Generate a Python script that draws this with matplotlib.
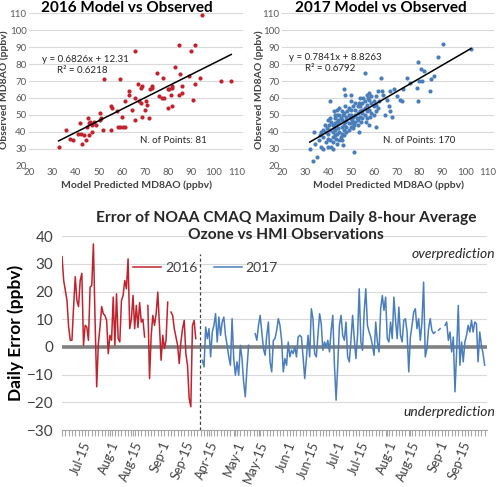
import numpy as np
import matplotlib
matplotlib.use('Agg')
import matplotlib.pyplot as plt
import pandas as pd

plt.rcParams['font.family'] = ['Lato', 'DejaVu Sans']

RED = '#C0232E'
BLUE = '#4A7EBB'
GRID = '#D9D9D9'
TXT = '#404040'

# ---------------- scatter data ----------------
model_2016 = [32.7, 36, 37.5, 39, 41, 42, 42.5, 43, 43.5, 44.5, 45, 45.5, 46, 46, 46.5, 47, 47, 48, 49,
              50.5, 50.5, 51, 52, 52.5, 55.5, 55.5, 56, 58, 58.5, 59.5, 59.5, 60, 60.5, 61.5, 61.5, 63, 63,
              64.5, 66, 66, 66, 67, 67.5, 68.5, 68.5, 69, 69, 70, 70.5, 71, 72, 72.5, 73, 73, 75.5, 76,
              77.5, 78, 80, 80, 80.5, 81.5, 82, 82, 82, 83, 85, 85, 85.5, 86, 86, 89, 90, 91, 92, 92, 94,
              95, 103, 107.5, 78.5]
obs_2016 = [31, 41, 36, 35, 39, 45, 39, 33, 38, 35, 43, 48, 38, 45, 46, 40, 44, 46, 44,
            51, 47, 48, 41, 71, 41, 55, 54, 52, 43, 43, 71, 49, 43, 58, 43, 64, 62,
            53, 60, 47, 88, 68, 58, 57, 66, 67, 49, 53, 58, 56, 48, 65, 67, 66, 75, 61,
            60, 72, 54, 65, 65, 62, 66, 67, 55, 78, 62, 91, 74, 63, 67, 73, 88, 59, 91, 68, 72,
            109, 70, 70, 60]

model_2017 = [32, 33.5, 34, 35, 34.5, 36, 37, 38, 38, 38.5, 39, 40, 40, 40, 41, 41, 41.5, 42, 42, 42,
              42.5, 43, 43, 43.5, 44, 44, 44.5, 45, 45, 46, 46, 46.5, 47, 47, 47.5, 48, 48, 49, 49, 50,
              50, 50.5, 51, 51.5, 52, 52, 53, 53, 54, 54, 55, 55, 56, 56, 56.5, 57, 57, 58, 58, 58.5,
              59, 60, 61, 61, 61, 62, 62.5, 63, 63.5, 64, 65, 66, 66.5, 67, 67, 68, 69, 70, 71.5, 72.5,
              73, 74.5, 76, 79, 79.5, 79.5, 80, 80.5, 81, 82, 84.5, 85, 86.5, 88, 90.5, 102.5,
              36.5, 37, 38, 39, 39.5, 40, 40.5, 41, 41, 41.5, 42, 42, 42.5, 43, 43, 43.5, 44, 44, 44,
              44.5, 45, 45, 45, 45.5, 45.5, 46, 46, 46.5, 47, 47, 47, 47.5, 47.5, 48, 48, 48.5, 49, 49,
              49.5, 50, 50, 50, 50.5, 51, 51, 51.5, 52, 52, 52.5, 53, 53, 53.5, 54, 54, 54.5, 55, 55,
              55.5, 56, 56, 57, 57, 57.5, 58, 58, 59, 59, 60, 60, 61, 62, 43, 46, 53.5]
obs_2017 = [30, 23, 40, 25, 33, 35, 31, 30, 37, 44, 40, 47, 36, 31, 48, 58, 31, 30, 37, 44,
            52, 45, 38, 36, 53, 33, 47, 40, 50, 52, 39, 32, 65, 44, 62, 47, 40, 54, 50, 62,
            58, 45, 42, 28, 57, 50, 47, 55, 60, 52, 53, 48, 75, 58, 46, 62, 52, 63, 44, 49,
            57, 55, 43, 61, 52, 64, 58, 72, 64, 62, 50, 59, 55, 64, 52, 49, 65, 61, 59, 58,
            65, 72, 69, 66, 81, 58, 70, 77, 70, 76, 64, 71, 73, 84, 92, 89,
            38, 40, 41, 34, 42, 39, 44, 35, 41, 46, 40, 34, 42, 41, 48, 44, 39, 46, 50,
            42, 35, 45, 54, 48, 37, 43, 47, 50, 41, 38, 51, 46, 55, 43, 49, 52, 45, 41,
            48, 53, 50, 43, 47, 55, 49, 44, 46, 53, 48, 51, 44, 57, 49, 55, 46, 51, 57,
            60, 50, 54, 48, 56, 60, 53, 59, 51, 61, 50, 58, 56, 54, 50, 35, 40]

fit_2016 = (0.6826, 12.31, 0.6218)
fit_2017 = (0.7841, 8.8263, 0.6792)

# ---------------- time series data ----------------
start_2016 = '2016-07-03'
start_2017 = '2017-04-11'
nan = np.nan
err_2016 = [32.6, 24, 20.4, 16.8, 7.2, 2.4, 2.4, 14.4, 25.4, 16.8, 14.6, 24, 26.6, 0.6, 7.8, 7.2, 2.4,
            21.6, 22.2, 37.2, 10, -14.4, 1.2, 7.2, 14.6, 12, 11.4, 9.6, -2.4, 4.2, 2.4, 18, 0.6, 19.2,
            3, 1.8, 16.8, 18.6, 24, 21, 31.8,
            6.6, 10, 18.6, 6.6, 15, 7, 16, 9, 10, 3.6, nan, 15, -11.4, 4.2, 11.4, 7.8, 12, 19.8, 7.8,
            -4.8, 4.2, -0.6, 2.4, 16.2, nan, 12.6, 11.4, 6.6, 3.6, 0.6, -6, 1.8, 6.6, 9.6, -2.4, -6.6,
            -18.6, -21.6, 7.8, 9.6, 3]
err_2017 = [-4.8, -7.2, 7.2, 3, 6.6, -3.6, 5.4, 7.8, 12, 1.8, 10.8, 4.2, 9, 10.8, 4.2, 0.6, -3.6,
            -6.6, 10.2, -4.2, -10.2, -5.4, -10.2, 0.6, -4.2, -12.6, -18, -7.8, 0.6, nan, nan, nan,
            4.8, 2.4, 7.8, 11.4, 5.4, -0.6, -3, 4.2, 9, -5.4,
            -9, 2.4, 3, 6, 10.2, 7.8, 2.4, -9, -4.2, -6.6, 1.8, -3.6, -1.2, -2.4, 0, -3.6, 3.6, 4.2,
            3.6, -3.6, -11.4, -4.2, 4.2, -3.6, 13.8, 10.2, -2.4, -3.6, 4.2, 12, 8.4, -1.2, 1.8, 0,
            2.4, -1.8, 6, 11.4, -6.6, -19.2, -6.6, 7.8, 11.4,
            4.2, 2.4, 9, -3.6, -5.4, 2.4, 11.4, 3, -4.2, 4.2, 21, 1.8, -1.2, 12.6, 21, 7.8, 5.4, 3.6,
            0.6, -3, 9, 1.8, -1.8, 13.8, 18.6, 13.2, 18, 3, 1.8, 9, 3, 18, 9.6, 3, 14.4, 4.2, 1.8,
            9.6, 10.2, 5.4, -9, 3.6, 7.8,
            12.6, 13.8, 6.6, 10.2, 2.4, 9, 23.4, -3.6, -0.6, 6.6, 10.2, 6, 4.8, 5.4, nan, 6, 6.6, nan,
            nan, 7.8, 9, 2.4, 5.4, -1.8, 3.6, -16.2, -1.8, 15, -6.6, 1.8, -5.4, 1.8, 4.2, 7.8, 5.4,
            9.6, 5.4, 9, 8.4, -5.4, 5.4, 0.6, -2.4, -6.6]

tick_dates_2016 = ['2016-07-15', '2016-08-01', '2016-08-15', '2016-09-01', '2016-09-15']
tick_dates_2017 = ['2017-04-15', '2017-05-01', '2017-05-15', '2017-06-01', '2017-06-15',
                   '2017-07-01', '2017-07-15', '2017-08-01', '2017-08-15', '2017-09-01', '2017-09-15']
GAP_2017 = 85  # category slot where 2017 begins

# ---------------- figure ----------------
fig = plt.figure(figsize=(5.0, 4.87), dpi=100)


def scatter_panel(rect, mx, oy, fit, color, title, n_text, eq_pos, r2_pos, n_pos, title_x, ylab_x):
    ax = fig.add_axes(rect)
    ax.set_xlim(20, 112.5)
    ax.set_ylim(20, 110)
    ax.set_yticks(np.arange(20, 111, 10))
    ax.set_xticks(np.arange(20, 111, 10))
    ax.grid(axis='y', color=GRID, lw=0.8)
    ax.set_axisbelow(True)
    for s in ax.spines.values():
        s.set_visible(False)
    ax.tick_params(length=0, labelsize=7, colors='#595959', pad=2)
    ax.scatter(mx, oy, s=9, color=color, zorder=3, linewidths=0)
    slope, icpt, r2 = fit
    xs = np.array([min(mx), max(mx)])
    ax.plot(xs, slope * xs + icpt, color='black', lw=1.1, zorder=4)
    ax.text(eq_pos[0], eq_pos[1], f'y = {slope:g}x + {icpt:g}', fontsize=7, color='#262626',
            va='center')
    ax.text(r2_pos[0], r2_pos[1], f'R\u00b2 = {r2:g}', fontsize=7, color='#262626', va='center')
    ax.text(n_pos[0], n_pos[1], n_text, fontsize=7, color='#262626', va='center')
    ax.set_xlabel('Model Predicted MD8AO (ppbv)', fontsize=7.5, fontweight='bold', color=TXT,
                  labelpad=2)
    ax.set_ylabel('Observed MD8AO (ppbv)', fontsize=7.5, fontweight='bold', color=TXT)
    ax.yaxis.set_label_coords(ylab_x, 0.5)
    fig.text(title_x, 0.984, title, ha='center', va='center', fontsize=11, fontweight='bold',
             color='black')
    return ax


scatter_panel([0.0586, 0.6598, 0.427, 0.3129], model_2016, obs_2016, fit_2016, RED,
              '2016 Model vs Observed', f'N. of Points: {len(model_2016)}',
              (25.4, 82.6), (31.9, 76.3), (68, 34.8), 0.253, -0.095)
scatter_panel([0.5646, 0.6598, 0.423, 0.3129], model_2017, obs_2017, fit_2017, BLUE,
              '2017 Model vs Observed', f'N. of Points: {len(model_2017)}',
              (23.1, 83.6), (29.9, 77.4), (64, 34.8), 0.762, -0.086)

# ---------------- time series ----------------
ax = fig.add_axes([0.1234, 0.117, 0.8506, 0.398])
d16 = pd.Timestamp(start_2016)
d17 = pd.Timestamp(start_2017)
x16 = np.arange(len(err_2016))
x17 = np.arange(len(err_2017)) + GAP_2017
ax.set_xlim(-0.2, x17[-1] + 1.4)
ax.set_ylim(-30, 40)
ax.set_yticks(np.arange(-30, 41, 10))
ax.grid(axis='y', color=GRID, lw=0.8)
ax.set_axisbelow(True)
ax.axhline(0, color='#808080', lw=2.6, zorder=1.5)
ax.plot(x16, err_2016, color=RED, lw=1.1, label='2016', zorder=3)
ax.plot(x17, err_2017, color=BLUE, lw=1.1, label='2017', zorder=3)
ax.axvline(GAP_2017 - 1.2, ymin=0, ymax=0.91, color='#404040', lw=0.9, ls=(0, (2.5, 2)), zorder=2)

tick_pos = [(pd.Timestamp(d) - d16).days for d in tick_dates_2016] + \
           [GAP_2017 + (pd.Timestamp(d) - d17).days for d in tick_dates_2017]
tick_lab = [pd.Timestamp(d).strftime('%b') + '-' + str(pd.Timestamp(d).day)
            for d in tick_dates_2016 + tick_dates_2017]
ax.set_xticks(tick_pos)
ax.set_xticklabels(tick_lab, rotation=68, ha='right', rotation_mode='anchor', fontsize=9.2,
                   color=TXT)
ax.set_xticks(np.arange(0, x17[-1] + 2, 2), minor=True)
ax.tick_params(axis='x', which='both', length=4, color='#A6A6A6', width=0.8, pad=3)
ax.tick_params(axis='y', length=0, labelsize=11, labelcolor=TXT, pad=6)
for s in ['top', 'right', 'left']:
    ax.spines[s].set_visible(False)
ax.spines['bottom'].set_color('#A6A6A6')
ax.set_ylabel('Daily Error (ppbv)', fontsize=12.5, fontweight='bold', color='black')
ax.yaxis.set_label_coords(-0.088, 0.5)

leg = ax.legend(loc='center', bbox_to_anchor=(0.338, 0.835), ncol=2, frameon=False, fontsize=10,
                handlelength=2.0, handletextpad=0.3, columnspacing=1.2)
for t in leg.get_texts():
    t.set_color(TXT)

ax.text(1.02, 33.5, 'overprediction', transform=ax.get_yaxis_transform(), ha='right', va='center',
        fontsize=10, style='italic', color='#262626')
ax.text(1.02, -23.5, 'underprediction', transform=ax.get_yaxis_transform(), ha='right', va='center',
        fontsize=10, style='italic', color='#262626')

fig.text(0.572, 0.5345, 'Error of NOAA CMAQ Maximum Daily 8-hour Average\nOzone vs HMI Observations',
         ha='center', va='center', fontsize=11.2, fontweight='bold', color='#262626', linespacing=1.3)

fig.savefig('out.png', dpi=100)
